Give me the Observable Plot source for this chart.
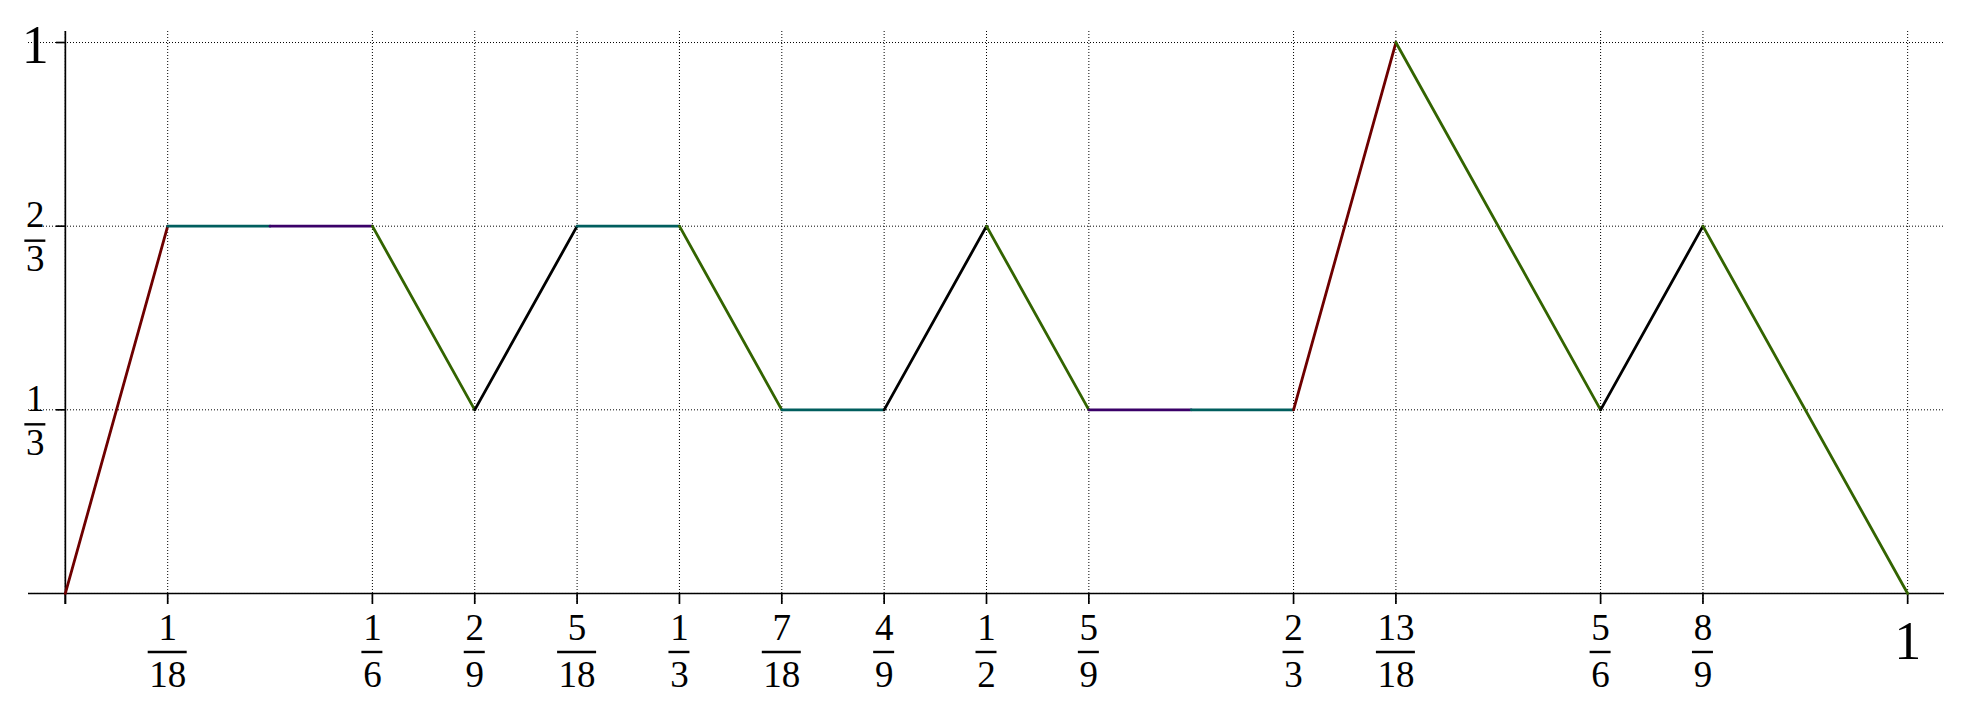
<!DOCTYPE html>
<html>
<head>
<meta charset="utf-8">
<script src="https://cdn.jsdelivr.net/npm/d3@7"></script>
<script src="https://cdn.jsdelivr.net/npm/@observablehq/plot@0.6"></script>
<style>
  html, body { margin: 0; padding: 0; background: #fff; }
  svg { display: block; }
</style>
</head>
<body>
<div id="chart"></div>
<script>
// ---- data ----
const pointX = [0, 1/18, 1/9, 1/6, 2/9, 5/18, 1/3, 7/18, 4/9, 1/2, 5/9, 11/18, 2/3, 13/18, 5/6, 8/9, 1];
const pointY = [0, 2/3, 2/3, 2/3, 1/3, 2/3, 2/3, 1/3, 1/3, 2/3, 1/3, 1/3, 1/3, 1, 1/3, 2/3, 0];
const segmentColor = ["maroon", "teal", "purple", "green", "black", "teal", "green", "teal",
                      "black", "green", "purple", "teal", "maroon", "green", "black", "green"];
const palette = {maroon: "#6e0000", teal: "#005e5e", purple: "#3a0068", green: "#336400", black: "#000000"};

const xTicks = [0, 1/18, 1/6, 2/9, 5/18, 1/3, 7/18, 4/9, 1/2, 5/9, 2/3, 13/18, 5/6, 8/9, 1];
const xTickLabels = ["", "1/18", "1/6", "2/9", "5/18", "1/3", "7/18", "4/9", "1/2", "5/9", "2/3", "13/18", "5/6", "8/9", "1"];
const yTicks = [0, 1/3, 2/3, 1];
const yTickLabels = ["", "1/3", "2/3", "1"];

const xDomain = [-0.02, 1.02];
const yDomain = [-0.02, 1.02];

// ---- derived ----
const segments = segmentColor.map((c, i) => ({
  x1: pointX[i], y1: pointY[i], x2: pointX[i + 1], y2: pointY[i + 1], color: palette[c]
}));
const parse = (v, l) => {
  const [n, d] = l.split("/");
  return {v, label: l, num: n, den: d};
};
const xLabels = xTicks.map((v, i) => parse(v, xTickLabels[i])).filter(d => d.label !== "");
const yLabels = yTicks.map((v, i) => parse(v, yTickLabels[i])).filter(d => d.label !== "");
const xFrac = xLabels.filter(d => d.den !== undefined);
const xWhole = xLabels.filter(d => d.den === undefined);
const yFrac = yLabels.filter(d => d.den !== undefined);
const yWhole = yLabels.filter(d => d.den === undefined);

const FONT = "Liberation Serif, DejaVu Serif, serif";
const FS = 37;

// fraction bars drawn through the scales
function fractionBars(index, scales) {
  const g = d3.create("svg:g").attr("stroke", "black").attr("stroke-width", 2.4);
  for (const d of xFrac) {
    const cx = scales.x(d.v), cy = scales.y(0) + 59;
    const hw = d.den.length > 1 ? 19.5 : 10.5;
    g.append("line").attr("x1", cx - hw).attr("x2", cx + hw).attr("y1", cy).attr("y2", cy);
  }
  for (const d of yFrac) {
    const cx = scales.x(0) - 30, cy = scales.y(d.v) + 15;
    const hw = d.den.length > 1 ? 19.5 : 10.5;
    g.append("line").attr("x1", cx - hw).attr("x2", cx + hw).attr("y1", cy).attr("y2", cy);
  }
  return g.node();
}

const chart = Plot.plot({
  width: 1967,
  height: 710,
  marginLeft: 28,
  marginRight: 23,
  marginTop: 31,
  marginBottom: 106,
  style: {background: "#fff", overflow: "visible"},
  x: {domain: xDomain, axis: null},
  y: {domain: yDomain, axis: null},
  marks: [
    // grid
    Plot.ruleX(xTicks, {stroke: "black", strokeWidth: 1, strokeDasharray: "1,2"}),
    Plot.ruleY(yTicks, {stroke: "black", strokeWidth: 1, strokeDasharray: "1,2"}),
    // spines
    Plot.ruleY([0], {stroke: "black", strokeWidth: 1.7}),
    Plot.ruleX([0], {stroke: "black", strokeWidth: 1.7}),
    // ticks
    Plot.ruleX(xTicks, {y1: 0, y2: yDomain[0], stroke: "black", strokeWidth: 1.7}),
    Plot.ruleY(yTicks.filter(v => v !== 0), {x1: xDomain[0], x2: 0, insetLeft: 28, stroke: "black", strokeWidth: 1.7}),
    // data
    Plot.link(segments, {x1: "x1", y1: "y1", x2: "x2", y2: "y2", stroke: "color", strokeWidth: 2.8, strokeLinecap: "round"}),
    // x tick labels
    Plot.text(xFrac, {x: "v", y: 0, text: "num", dy: 47, lineAnchor: "bottom", textAnchor: "middle", fontSize: FS, fontFamily: FONT, fill: "black"}),
    Plot.text(xFrac, {x: "v", y: 0, text: "den", dy: 94, lineAnchor: "bottom", textAnchor: "middle", fontSize: FS, fontFamily: FONT, fill: "black"}),
    Plot.text(xWhole, {x: "v", y: 0, text: "num", dy: 66, lineAnchor: "bottom", textAnchor: "middle", fontSize: 54, fontFamily: FONT, fill: "black"}),
    // y tick labels
    Plot.text(yFrac, {x: 0, y: "v", text: "num", dx: -30, dy: 1, lineAnchor: "bottom", textAnchor: "middle", fontSize: FS, fontFamily: FONT, fill: "black"}),
    Plot.text(yFrac, {x: 0, y: "v", text: "den", dx: -30, dy: 45, lineAnchor: "bottom", textAnchor: "middle", fontSize: FS, fontFamily: FONT, fill: "black"}),
    Plot.text(yWhole, {x: 0, y: "v", text: "num", dx: -30, dy: 20, lineAnchor: "bottom", textAnchor: "middle", fontSize: 54, fontFamily: FONT, fill: "black"}),
    fractionBars
  ]
});
document.getElementById("chart").appendChild(chart);
</script>
</body>
</html>
